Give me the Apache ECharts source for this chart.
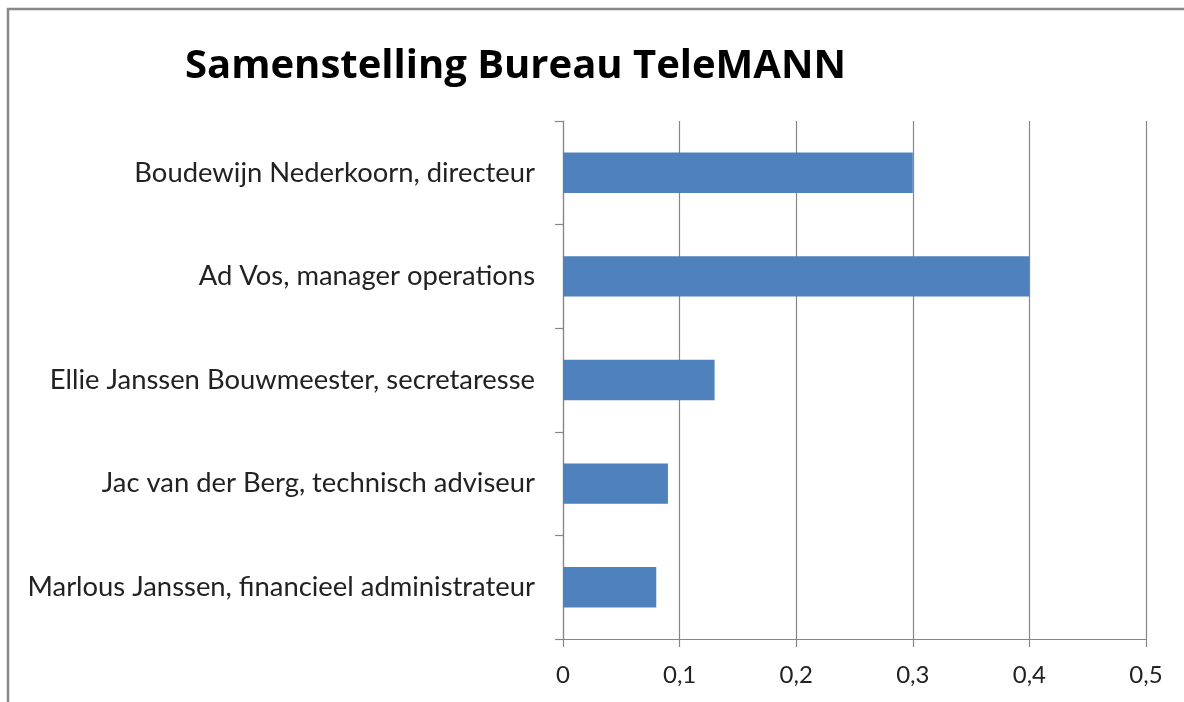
<!DOCTYPE html>
<html><head><meta charset="utf-8">
<script src="https://cdn.jsdelivr.net/npm/echarts@6/dist/echarts.min.js"></script>
<style>html,body{margin:0;padding:0;background:#fff}#c{width:1184px;height:702px}</style>
</head><body><div id="c"></div>
<script>
const titleText = 'Samenstelling Bureau TeleMANN';
const categories = ['Marlous Janssen, financieel administrateur','Jac van der Berg, technisch adviseur','Ellie Janssen Bouwmeester, secretaresse','Ad Vos, manager operations','Boudewijn Nederkoorn, directeur'];
const values = [0.08, 0.09, 0.13, 0.40, 0.30];
const xTicks = [0, 0.1, 0.2, 0.3, 0.4, 0.5];

const chart = echarts.init(document.getElementById('c'), null, {renderer:'canvas'});
const font = 'Lato, "Open Sans", sans-serif';
chart.setOption({
  animation:false,
  backgroundColor:'#fff',
  title:{text:titleText,left:180,top:42,textStyle:{fontFamily:'"Open Sans", sans-serif',fontWeight:'bold',fontSize:40,color:'#000'}},
  graphic:[{type:'rect',shape:{x:8,y:9,width:1400,height:900},style:{fill:'none',stroke:'#888',lineWidth:2.5},silent:true}],
  grid:{left:563,right:38,top:121,bottom:63,containLabel:false},
  xAxis:{type:'value',min:xTicks[0],max:xTicks[xTicks.length-1],interval:0.1,
    axisLine:{show:true,lineStyle:{color:'#868686',width:1.2}},
    axisTick:{show:true,length:8,lineStyle:{color:'#868686',width:1.2}},
    splitLine:{show:true,lineStyle:{color:'#868686',width:1.2}},
    axisLabel:{fontFamily:font,fontSize:24,color:'#222',margin:24,formatter:v=>String(Math.round(v*10)/10).replace('.',',')}},
  yAxis:{type:'category',data:categories,
    axisLine:{show:true,lineStyle:{color:'#868686',width:1.2}},
    axisTick:{show:true,length:8,lineStyle:{color:'#868686',width:1.2}},
    axisLabel:{fontFamily:font,fontSize:27.4,color:'#222',margin:28}},
  series:[{type:'bar',data:values,barCategoryGap:'61%',itemStyle:{color:'#4F81BD'}}]
});
</script></body></html>
